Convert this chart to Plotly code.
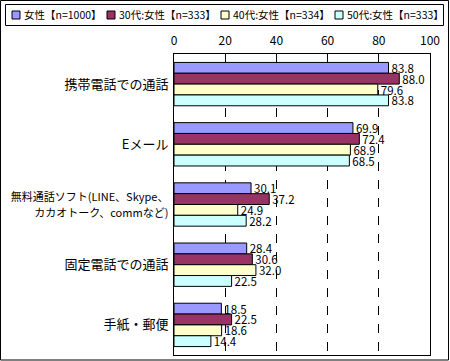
import plotly.graph_objects as go

categories = ["携帯電話での通話", "Eメール",
              "<span style='font-size:11px'>無料通話ソフト(LINE、Skype、<br>カカオトーク、commなど)</span>",
              "固定電話での通話", "手紙・郵便"]
series_names = ["女性【n=1000】", "30代:女性【n=333】", "40代:女性【n=334】", "50代:女性【n=333】"]
women_all = [83.8, 69.9, 30.1, 28.4, 18.5]
women_30s = [88.0, 72.4, 37.2, 30.6, 22.5]
women_40s = [79.6, 68.9, 24.9, 32.0, 18.6]
women_50s = [83.8, 68.5, 28.2, 22.5, 14.4]
x_ticks = [0, 20, 40, 60, 80, 100]

colors = ["#9999FF", "#993366", "#FFFFCC", "#CCFFFF"]
series = [women_all, women_30s, women_40s, women_50s]

FONT = "Noto Sans CJK JP, sans-serif"
LEG_FONT = "Liberation Sans Narrow, Noto Sans CJK JP, sans-serif"

fig = go.Figure()
for name, vals, col in zip(series_names, series, colors):
    fig.add_trace(go.Bar(
        y=categories, x=vals, name=name, orientation="h",
        marker=dict(color=col, line=dict(color="black", width=1)),
        text=[f"{v:.1f}" for v in vals], textposition="outside",
        textfont=dict(size=11.5, color="black", family=FONT),
        constraintext="none",
        cliponaxis=False, showlegend=False,
    ))

L, R, T, B = 174, 20, 54, 6
W, H = 450, 361
pw, ph = W - L - R, H - T - B

def px_x(p):
    return (p - L) / pw

def px_y(p):
    return (H - B - p) / ph

shapes = [
    dict(type="rect", xref="paper", yref="paper",
         x0=px_x(0.5), x1=px_x(448.5), y0=px_y(0.5), y1=px_y(360),
         line=dict(color="black", width=1), layer="below"),
    dict(type="rect", xref="paper", yref="paper",
         x0=px_x(5.5), x1=px_x(443.5), y0=px_y(4.5), y1=px_y(25.5),
         line=dict(color="black", width=1), fillcolor="white", layer="below"),
]
annotations = []
legend_x = [12, 107, 221, 335]
for lx, name, col in zip(legend_x, series_names, colors):
    shapes.append(dict(type="rect", xref="paper", yref="paper",
                       x0=px_x(lx), x1=px_x(lx + 8), y0=px_y(11), y1=px_y(19),
                       line=dict(color="black", width=1), fillcolor=col))
    annotations.append(dict(xref="paper", yref="paper", x=px_x(lx + 10), y=px_y(15),
                            xanchor="left", yanchor="middle", showarrow=False,
                            text=name, font=dict(size=10.5, family=LEG_FONT, color="black")))

fig.update_layout(
    width=W, height=H,
    margin=dict(l=L, r=R, t=T, b=B, autoexpand=False),
    paper_bgcolor="white", plot_bgcolor="white",
    font=dict(family=FONT, color="black", size=12),
    barmode="group", bargap=0.28, bargroupgap=0,
    showlegend=False,
    xaxis=dict(
        range=[0, 100], tickvals=x_ticks, side="top",
        showgrid=True, gridcolor="black", griddash="dash", gridwidth=1,
        showline=True, linecolor="black", linewidth=1, mirror=True,
        ticks="", tickfont=dict(size=12), zeroline=False, ticklabelstandoff=3,
    ),
    yaxis=dict(
        autorange="reversed", showline=True, linecolor="black", linewidth=1, mirror=True,
        ticks="", tickfont=dict(size=13), showgrid=False, ticklabelstandoff=2,
    ),
    shapes=shapes,
    annotations=annotations,
)

fig.write_html("out.html", config={"displayModeBar": False},
               post_script="document.body.style.margin='0';")
